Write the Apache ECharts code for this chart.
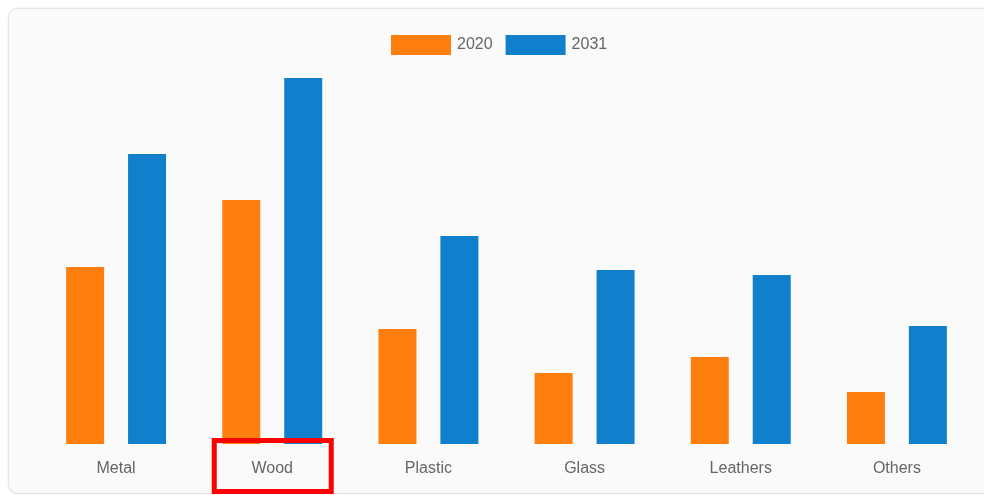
<!DOCTYPE html>
<html>
<head>
<meta charset="utf-8">
<script src="https://cdn.jsdelivr.net/npm/echarts@6/dist/echarts.min.js"></script>
<style>
  html, body { margin: 0; padding: 0; background: #fff; overflow: hidden; }
  .card {
    position: absolute; left: 8px; top: 8px; width: 1000px; height: 484px;
    background: #fafafa; border: 1px solid #e4e4e4; border-radius: 10px;
    box-shadow: 0 0 3px rgba(0,0,0,0.08);
  }
  #chart { position: absolute; left: 0; top: 0; width: 984px; height: 495px; }
</style>
</head>
<body>
<div class="card"></div>
<div id="chart"></div>
<script>
  // 数据
  var categories = ['Metal', 'Wood', 'Plastic', 'Glass', 'Leathers', 'Others'];
  var seriesNames = ['2020', '2031'];
  var values2020 = [17.7, 24.4, 11.5, 7.1, 8.7, 5.2];
  var values2031 = [29.0, 36.6, 20.8, 17.4, 16.9, 11.8];
  var colors = ['#ff7f0e', '#1180cc'];
  var highlighted = 'Wood';

  var chart = echarts.init(document.getElementById('chart'));
  var option = {
    backgroundColor: 'transparent',
    color: colors,
    animation: false,
    legend: {
      top: 30,
      left: 386,
      itemWidth: 60,
      itemHeight: 20,
      itemGap: 13,
      icon: 'rect',
      textStyle: { color: '#666', fontSize: 16, padding: [0, 0, 0, 1], fontFamily: 'Liberation Sans, Arial' },
      data: seriesNames
    },
    grid: { left: 38, right: 9, top: 44, bottom: 51 },
    xAxis: {
      type: 'category',
      data: categories,
      axisLine: { show: false },
      axisTick: { show: false },
      axisLabel: { color: '#666', fontSize: 16, margin: 17, fontFamily: 'Liberation Sans, Arial' }
    },
    yAxis: {
      type: 'value',
      min: 0,
      max: 40,
      show: false,
      splitLine: { show: false }
    },
    series: [
      { name: seriesNames[0], type: 'bar', barWidth: 38, barGap: '63%', data: values2020 },
      { name: seriesNames[1], type: 'bar', barWidth: 38, barGap: '63%', data: values2031 }
    ]
  };
  chart.setOption(option);

  // 红框标注，位置从坐标轴换算
  var cx = chart.convertToPixel({ xAxisIndex: 0 }, highlighted);
  var baseY = chart.convertToPixel({ yAxisIndex: 0 }, 0);
  chart.setOption({
    graphic: [{
      type: 'rect',
      shape: { x: cx - 58, y: baseY - 3.5, width: 117, height: 51 },
      style: { fill: 'none', stroke: '#ff0000', lineWidth: 5 },
      z: 100
    }]
  });
</script>
</body>
</html>
